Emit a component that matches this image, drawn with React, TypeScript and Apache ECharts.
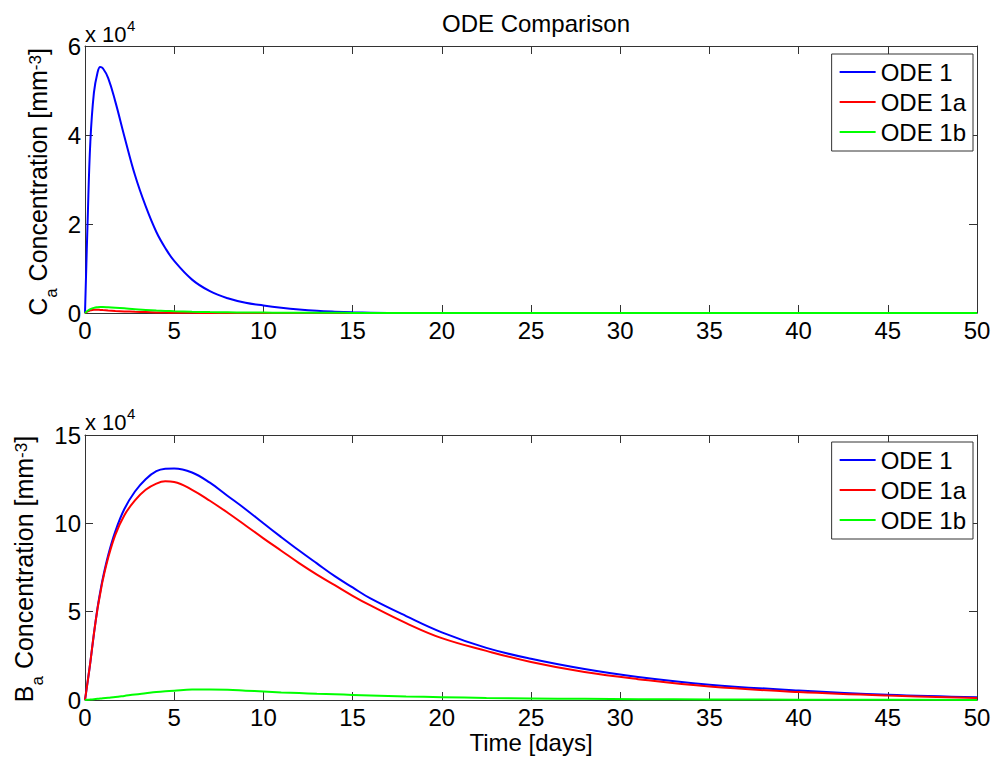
import React, { useEffect, useRef } from 'react';
import * as echarts from 'echarts';

// Time grid (days) shared by every series
const timeDays = [0, 0.15, 0.3, 0.5, 0.7, 0.85, 1, 1.3, 1.7, 2.2, 2.8, 3.4, 4, 4.5, 5, 6, 7, 8, 9, 10, 11, 12, 13, 14, 15, 16, 18, 20, 22.5, 25, 28, 31, 35, 40, 45, 50];

// Top panel: C_a concentration
const caOde1 = [0, 21000, 38500, 49500, 54000, 55300, 55000, 52800, 47500, 39800, 31000, 24000, 18200, 14600, 11700, 7500, 4900, 3300, 2300, 1700, 1200, 800, 500, 300, 150, 60, 0, 0, 0, 0, 0, 0, 0, 0, 0, 0];
const caOde1a = [0, 350, 600, 750, 750, 700, 650, 560, 460, 360, 270, 200, 140, 100, 70, 35, 15, 5, 0, 0, 0, 0, 0, 0, 0, 0, 0, 0, 0, 0, 0, 0, 0, 0, 0, 0];
const caOde1b = [0, 500, 850, 1150, 1300, 1350, 1350, 1300, 1200, 1050, 850, 700, 560, 470, 400, 290, 210, 160, 120, 95, 75, 60, 45, 35, 28, 22, 14, 9, 5, 3, 2, 1, 0, 0, 0, 0];

// Bottom panel: B_a concentration
const baOde1 = [0, 10500, 21500, 37500, 52000, 61000, 69000, 82000, 95500, 108000, 118000, 125000, 129500, 130900, 131100, 128800, 123000, 115500, 108000, 100000, 92200, 84600, 77300, 70100, 63700, 57500, 47500, 38300, 29500, 23300, 17500, 13000, 8700, 5400, 3000, 1600];
const baOde1a = [0, 10500, 21500, 37500, 51500, 60000, 68000, 80500, 93500, 104500, 113000, 119000, 122500, 123800, 123400, 119000, 112800, 106000, 98800, 91500, 84500, 77500, 71000, 65000, 59000, 53500, 43500, 35000, 27800, 21500, 15800, 11800, 7600, 4500, 2500, 1200];
const baOde1b = [0, 100, 250, 450, 650, 800, 950, 1250, 1650, 2300, 3100, 3800, 4500, 4950, 5300, 5900, 6000, 5800, 5300, 4800, 4300, 3900, 3500, 3200, 2900, 2600, 2000, 1600, 1200, 900, 650, 450, 300, 180, 100, 60];

const seriesNames = ['ODE 1', 'ODE 1a', 'ODE 1b'];
const seriesColors = ['#0000ff', '#ff0000', '#00ff00'];
const xTicks = { min: 0, max: 50, interval: 5 };
const topY = { min: 0, max: 60000, interval: 20000 };
const bottomY = { min: 0, max: 150000, interval: 50000 };
const scale = 10000;

const FONT = '"Liberation Sans", Arial, sans-serif';
const AX = '#333333';

function zip(t: number[], v: number[]) {
  return t.map((x, i) => [x, v[i]]);
}

function xAxisPair(gridIndex: number) {
  const base = {
    type: 'value' as const,
    gridIndex,
    min: xTicks.min,
    max: xTicks.max,
    interval: xTicks.interval,
    axisLine: { show: true, onZero: false, lineStyle: { color: AX, width: 1 } },
    axisTick: { show: true, inside: true, length: 8, lineStyle: { color: AX, width: 1 } },
    splitLine: { show: false },
  };
  return [
    { ...base, position: 'bottom', axisLabel: { show: true, margin: 9, fontSize: 24, lineHeight: 16, color: '#000', fontFamily: FONT } },
    { ...base, position: 'top', axisLabel: { show: false } },
  ];
}

function yAxisPair(gridIndex: number, r: { min: number; max: number; interval: number }) {
  const base = {
    type: 'value' as const,
    gridIndex,
    min: r.min,
    max: r.max,
    interval: r.interval,
    axisLine: { show: true, onZero: false, lineStyle: { color: AX, width: 1 } },
    axisTick: { show: true, inside: true, length: 8, lineStyle: { color: AX, width: 1 } },
    splitLine: { show: false },
  };
  return [
    {
      ...base,
      position: 'left',
      axisLabel: { show: true, margin: 4, fontSize: 24, lineHeight: 16, color: '#000', fontFamily: FONT, formatter: (v: number) => String(v / scale) },
    },
    { ...base, position: 'right', axisLabel: { show: false } },
  ];
}

function makeSeries(axisIndex: number, values: number[][]) {
  return values.map((v, i) => ({
    type: 'line',
    name: seriesNames[i],
    xAxisIndex: axisIndex,
    yAxisIndex: axisIndex,
    data: zip(timeDays, v),
    symbol: 'none',
    smooth: 0.4,
    lineStyle: { width: 2, color: seriesColors[i] },
    itemStyle: { color: seriesColors[i] },
    clip: true,
  }));
}

function legendAt(top: number) {
  return {
    data: seriesNames.map((name) => ({ name, icon: 'rect' })),
    orient: 'vertical',
    right: 25,
    top,
    itemWidth: 36,
    itemHeight: 2,
    itemGap: 4,
    padding: [5, 7, 6, 8],
    borderColor: AX,
    borderWidth: 1,
    backgroundColor: '#ffffff',
    textStyle: { fontSize: 24, lineHeight: 26, color: '#000', fontFamily: FONT },
  };
}

const labelRich = {
  m: { fontSize: 25, lineHeight: 44, fontFamily: FONT, color: '#000' },
  sub: { fontSize: 17, lineHeight: 17, verticalAlign: 'bottom', fontFamily: FONT, color: '#000' },
  sup: { fontSize: 17, lineHeight: 17, verticalAlign: 'middle', padding: [0, 0, 5, 0], fontFamily: FONT, color: '#000' },
};

function multiplier(baseline: number) {
  return [
    { type: 'text', x: 85, y: baseline - 7.8, style: { text: 'x 10', fontSize: 22, fontFamily: FONT, fill: '#000', align: 'left', verticalAlign: 'middle' } },
    { type: 'text', x: 127, y: baseline - 17, style: { text: '4', fontSize: 15, fontFamily: FONT, fill: '#000', align: 'left', verticalAlign: 'middle' } },
  ];
}

export default function App() {
  const ref = useRef<HTMLDivElement>(null);
  useEffect(() => {
    if (!ref.current) return;
    const chart = echarts.init(ref.current, null, { renderer: 'svg' });
    const option: any = {
      animation: false,
      backgroundColor: '#ffffff',
      title: {
        text: 'ODE Comparison',
        left: 531,
        textAlign: 'center',
        top: 6,
        textStyle: { fontSize: 24, fontWeight: 'normal', color: '#000', fontFamily: FONT },
      },
      grid: [
        { left: 85, right: 21, top: 46, height: 267, containLabel: false },
        { left: 85, right: 21, top: 435, height: 265, containLabel: false },
      ],
      xAxis: [...xAxisPair(0), ...xAxisPair(1)],
      yAxis: [...yAxisPair(0, topY), ...yAxisPair(1, bottomY)],
      legend: [legendAt(54), legendAt(442)],
      series: [
        ...makeSeries(0, [caOde1, caOde1a, caOde1b]),
        ...makeSeries(2, [baOde1, baOde1a, baOde1b]),
      ],
      graphic: [
        ...multiplier(42),
        ...multiplier(430),
        {
          type: 'text',
          x: 38.3,
          y: 182,
          rotation: Math.PI / 2,
          style: {
            text: '{m|C}{sub|a}{m| Concentration [mm}{sup|-3}{m|]}',
            rich: labelRich,
            align: 'center',
            verticalAlign: 'middle',
          },
        },
        {
          type: 'text',
          x: 24.3,
          y: 569,
          rotation: Math.PI / 2,
          style: {
            text: '{m|B}{sub|a}{m| Concentration [mm}{sup|-3}{m|]}',
            rich: labelRich,
            align: 'center',
            verticalAlign: 'middle',
          },
        },
        {
          type: 'text',
          x: 531,
          y: 742,
          style: { text: 'Time [days]', fontSize: 24, lineHeight: 18, fontFamily: FONT, fill: '#000', align: 'center', verticalAlign: 'middle' },
        },
      ],
    };
    chart.setOption(option);
    return () => chart.dispose();
  }, []);
  return <div ref={ref} style={{ position: 'fixed', left: 0, top: 0, width: 998, height: 766 }} />;
}
